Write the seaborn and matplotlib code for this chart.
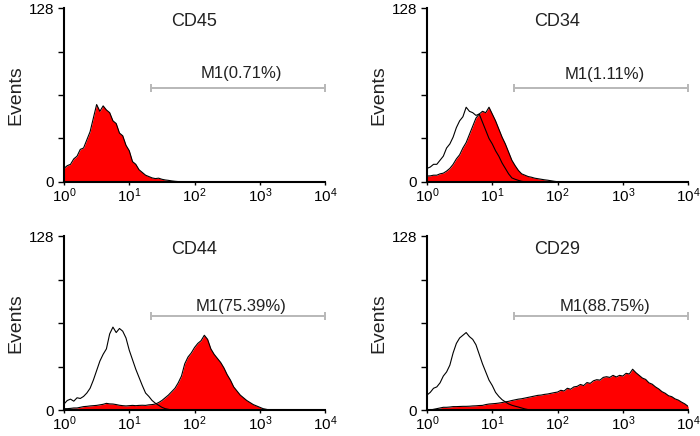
import numpy as np
import matplotlib
matplotlib.use("Agg")
import matplotlib.pyplot as plt
import seaborn as sns

sns.set_theme(style="white")
plt.rcParams['font.family'] = ['Liberation Sans', 'DejaVu Sans']
plt.rcParams['mathtext.fontset'] = 'custom'
plt.rcParams['mathtext.rm'] = 'Liberation Sans'
plt.rcParams['mathtext.it'] = 'Liberation Sans:italic'
plt.rcParams['mathtext.bf'] = 'Liberation Sans:bold'

# channel step in decades (log10 fluorescence), every series starts at 10^0
step = 0.05

markers = ['CD45', 'CD34', 'CD44', 'CD29']
m1_labels = ['M1(0.71%)', 'M1(1.11%)', 'M1(75.39%)', 'M1(88.75%)']
m1_start = 1.34   # gate starts at ~10^1.34 and runs to 10^4
m1_level = 69
xtick_labels = [r'$\mathregular{10^{0}}$', r'$\mathregular{10^{1}}$', r'$\mathregular{10^{2}}$',
                r'$\mathregular{10^{3}}$', r'$\mathregular{10^{4}}$']
ytick_labels = ['0', '', '', '', '128']

# event counts (stained = red, control = open outline)
cd45_stained = [10, 12, 13, 17, 19, 24, 25, 31, 37, 47, 57, 52, 56, 53, 51, 45, 43, 36, 34, 27,
                23, 15, 13, 9, 7, 5, 4, 3, 2.5, 2.8, 2, 1.5, 1.2, 0.8, 0.5, 0.3, 0.1, 0]

cd34_stained = [4.4, 4.5, 5, 5, 6, 6.5, 8, 10, 13, 17, 20, 25, 29, 35, 41, 47, 50, 52, 51, 55,
                50, 45, 39, 33, 28, 22, 16, 12, 8.5, 6, 5, 4, 3.5, 2.8, 2.4, 2, 1.6, 1.3, 0.9, 0.5,
                0.2, 0]
cd34_control = [10, 11, 13, 13, 16, 19, 25, 28, 33, 40, 45, 48, 55, 52, 51, 49, 50, 44, 38, 32,
                28, 23, 19, 14, 10, 6, 3, 2, 1.2, 0.5, 0.2, 0]

cd44_stained = [1, 1, 1.2, 1.5, 1.5, 2, 2.5, 2.7, 3, 3.2, 3.4, 3.8, 4.2, 4.9, 4.5, 4.4, 4, 3.5, 3.2, 3,
                3.2, 3.4, 3.2, 3.4, 3.5, 3.4, 3.8, 4, 4.4, 5.5, 7, 9, 11, 13.5, 16, 20, 25, 34, 39, 42,
                46, 49, 51, 55, 52, 45, 41, 38, 35, 31, 26, 22, 17, 14, 11, 9, 7, 5.5, 4, 3,
                2, 1, 0.5, 0]
cd44_control = [4.4, 7, 8, 6.5, 9, 8.5, 10, 12.5, 16, 22, 29, 36, 41, 45, 56, 61, 57, 60, 58, 53,
                44, 37, 30, 24, 18, 12.5, 10, 7, 5, 3.5, 2, 1, 0.5, 0]

cd29_stained = [0, 0, 0.5, 1, 1.5, 2, 2, 2.2, 2.5, 2.5, 2.6, 2.7, 2.7, 2.8, 3, 3.1, 3.3, 3.4, 4, 4.4,
                4.6, 4.8, 5.1, 5.5, 6, 6.4, 7, 7.5, 8, 8.3, 8.8, 9.3, 9.8, 10.3, 10.8, 11, 11.5, 11.8, 12.3, 12.8,
                13.2, 14.5, 14, 16, 15.3, 17, 17.4, 18.8, 18, 20.2, 19.6, 21.5, 22.3, 22, 24, 24.5, 24, 25.5, 24.3, 25.5,
                25, 27, 26.5, 30, 27.5, 25.5, 23.5, 22.5, 20, 19, 17, 15.5, 13.5, 12.3, 10.5, 9.8, 8.2, 7.3, 5.8, 4.5,
                2.7]
cd29_control = [11, 13, 16, 17, 20, 25, 28, 33, 42, 49, 53, 55, 57, 54, 52, 48, 41, 34, 28, 22,
                18, 13, 10, 7.6, 6, 4.5, 3.5, 2.8, 2.2, 1.5, 0.8, 0.3, 0]

stained_sets = [cd45_stained, cd34_stained, cd44_stained, cd29_stained]
control_sets = [None, cd34_control, cd44_control, cd29_control]
m1_text_y = [80, 79, 76, 76]

fig = plt.figure(figsize=(7, 4.36), dpi=100)
panel_pos = [
    [0.0914, 0.5826, 0.373, 0.399],
    [0.610, 0.5826, 0.373, 0.399],
    [0.0914, 0.0596, 0.373, 0.399],
    [0.610, 0.0596, 0.373, 0.399],
]

for i in range(4):
    ax = fig.add_axes(panel_pos[i])
    stained = stained_sets[i]
    x_st = np.arange(len(stained)) * step
    ax.fill_between(x_st, stained, color='red', linewidth=0)
    sns.lineplot(x=x_st, y=stained, ax=ax, color='black', linewidth=0.8)
    control = control_sets[i]
    if control is not None:
        x_ct = np.arange(len(control)) * step
        sns.lineplot(x=x_ct, y=control, ax=ax, color='black', linewidth=0.8)

    # M1 gate marker
    ax.plot([m1_start, 4.0], [m1_level, m1_level], color='#b8b8b8', linewidth=1.4,
            marker='|', markersize=6, markeredgewidth=1.4, clip_on=False)
    ax.text((m1_start + 4.0) / 2 + 0.05, m1_text_y[i], m1_labels[i], ha='center', va='center',
            fontsize=12, color='#222222')
    ax.text(2.0, 118, markers[i], ha='center', va='center', fontsize=13, color='#222222')

    ax.set_xlim(0, 4)
    ax.set_ylim(0, 128)
    ax.set_xticks(range(5))
    ax.set_xticklabels(xtick_labels, fontsize=11)
    ax.set_yticks([0, 32, 64, 96, 128])
    ax.set_yticklabels(ytick_labels, fontsize=11)
    ax.tick_params(axis='y', left=True, direction='out', length=4, width=1, pad=3, colors='black')
    ax.tick_params(axis='x', bottom=True, direction='out', length=2, width=1, pad=1.5, colors='black')
    ax.set_xlabel('')
    ax.set_ylabel('Events', fontsize=14, color='#222222')
    ax.yaxis.set_label_coords(-0.15, 0.5)
    sns.despine(ax=ax)
    for side in ['left', 'bottom']:
        ax.spines[side].set_color('black')
        ax.spines[side].set_linewidth(1.5)

plt.savefig("out.png", dpi=100)
